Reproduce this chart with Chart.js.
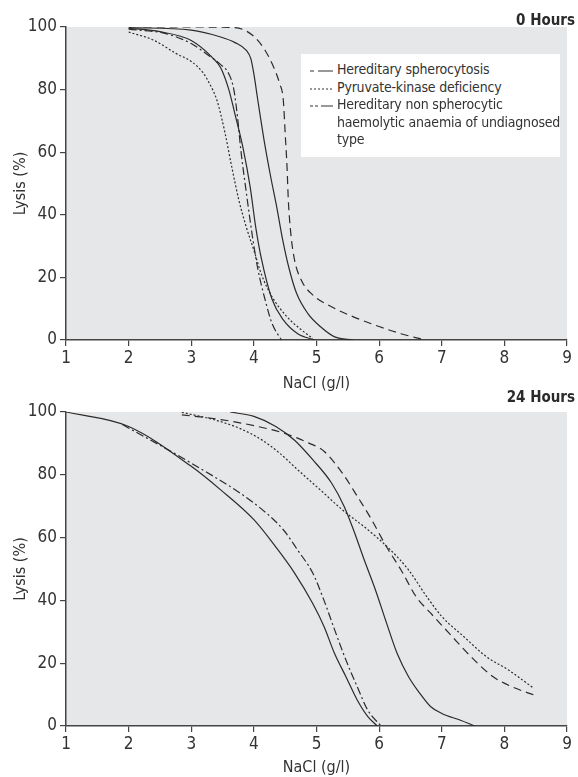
<!DOCTYPE html>
<html>
<head>
<meta charset="utf-8">
<script src="https://cdn.jsdelivr.net/npm/chart.js@4.4.1/dist/chart.umd.min.js"></script>
<style>
  body { margin:0; background:#fff; }
  #wrap { position:relative; width:578px; height:777px; overflow:hidden; font-family:"DejaVu Sans Condensed","Liberation Sans Narrow",sans-serif; color:#333; }
  canvas { position:absolute; left:0; }
  .ttl { position:absolute; right:3px; font-weight:bold; font-size:15px; color:#2a2a2a; }
  #legend { position:absolute; left:301px; top:54px; width:259px; height:103px; background:#fff; font-size:14px; letter-spacing:-0.2px; line-height:17.5px; }
  #legend .row { position:absolute; left:9px; }
  #legend svg { position:absolute; left:0; top:8px; }
  #legend span { position:absolute; left:27px; white-space:nowrap; }
</style>
</head>
<body>
<div id="wrap">
  <canvas id="c0" width="578" height="393" style="top:0"></canvas>
  <canvas id="c24" width="578" height="389" style="top:388px"></canvas>
  <div class="ttl" style="top:11px">0 Hours</div>
  <div class="ttl" style="top:388px">24 Hours</div>
  <div id="legend">
    <div class="row" style="top:7px"><svg width="23" height="4"><line x1="0" y1="2" x2="23" y2="2" stroke="#333" stroke-width="1.2" stroke-dasharray="4 4 15"/></svg><span>Hereditary spherocytosis</span></div>
    <div class="row" style="top:24.5px"><svg width="23" height="4"><line x1="0" y1="2" x2="23" y2="2" stroke="#333" stroke-width="1.2" stroke-dasharray="2 2"/></svg><span>Pyruvate-kinase deficiency</span></div>
    <div class="row" style="top:42px"><svg width="23" height="4"><line x1="0" y1="2" x2="23" y2="2" stroke="#333" stroke-width="1.2" stroke-dasharray="3 2 3 3 12"/></svg><span>Hereditary non spherocytic<br>haemolytic anaemia of undiagnosed<br>type</span></div>
  </div>
</div>
<script>
// 0 hours
const h0NormLowX = [2, 2.5, 3, 3.35, 3.47, 3.6, 3.7, 3.82, 3.94, 4.03, 4.12, 4.29, 4.47, 4.7, 4.97];
const h0NormLowY = [99.6, 98.5, 95.7, 90, 87, 80, 72, 62, 49, 36, 26, 13, 6.4, 2, 0];
const h0NormHighX = [2, 3, 3.47, 3.7, 3.88, 3.95, 4, 4.06, 4.17, 4.27, 4.36, 4.46, 4.56, 4.68, 4.86, 5.06, 5.29, 5.59];
const h0NormHighY = [99.8, 99, 96.8, 95, 92.5, 90, 85, 77, 63, 52, 43, 32, 23, 15, 8.5, 4.3, 1, 0];
const h0HsX = [2.24, 3, 3.7, 4, 4.18, 4.32, 4.41, 4.47, 4.5, 4.53, 4.55, 4.59, 4.65, 4.76, 4.94, 5.24, 5.59, 6, 6.35, 6.7];
const h0HsY = [100, 100, 99.8, 97, 92.5, 87, 82, 76.6, 66, 55, 44.7, 34, 25.5, 19, 14.4, 10.6, 7.4, 4.3, 2, 0.2];
const h0PkX = [2, 2.41, 2.76, 3, 3.18, 3.29, 3.41, 3.53, 3.65, 3.76, 3.88, 4, 4.12, 4.29, 4.53, 4.76, 4.94];
const h0PkY = [98.4, 95.7, 91.5, 89, 85.6, 82, 76.6, 67, 55, 44.7, 36, 28.7, 21, 13.8, 7.4, 3.2, 0.5];
const h0HnsX = [2, 2.59, 3, 3.29, 3.47, 3.6, 3.68, 3.74, 3.79, 3.88, 3.97, 4.06, 4.18, 4.29, 4.44];
const h0HnsY = [99.3, 97.9, 94.7, 90.7, 88, 85, 80, 71, 61, 47, 34, 23, 12.8, 5.3, 0];

// 24 hours
const h24NormLowX = [1, 2, 3, 3.47, 4, 4.35, 4.65, 4.94, 5.12, 5.29, 5.47, 5.65, 5.82, 5.97];
const h24NormLowY = [100, 95.4, 82.7, 75.2, 65.7, 57, 48.7, 39, 31.7, 23, 15.7, 8.3, 3, 0];
const h24NormHighX = [3.62, 4, 4.35, 4.65, 4.94, 5.24, 5.44, 5.59, 5.76, 5.94, 6.12, 6.29, 6.47, 6.65, 6.82, 7, 7.29, 7.53];
const h24NormHighY = [100, 98.6, 95.4, 91, 84.8, 77.4, 70, 62.5, 53, 43.4, 32.7, 23, 15.7, 10.4, 6.2, 4, 1.9, 0];
const h24HsX = [2.85, 3.47, 4.06, 4.47, 4.88, 5.12, 5.41, 5.65, 5.88, 6.12, 6.35, 6.59, 6.82, 7.12, 7.47, 7.82, 8.18, 8.47];
const h24HsY = [99.1, 97.6, 95.4, 93.3, 90.1, 87.5, 80.6, 73.2, 65.7, 57, 49.7, 41.2, 36, 29.5, 22, 15.7, 12, 9.9];
const h24PkX = [2.85, 3.35, 3.76, 4.12, 4.41, 4.7, 5.06, 5.41, 5.82, 6.18, 6.47, 6.76, 7, 7.35, 7.71, 8.06, 8.47];
const h24PkY = [99.9, 97.6, 94.9, 91.2, 86.9, 81.6, 75.2, 68.9, 62.5, 56.1, 49.7, 41.2, 34.9, 28.5, 22.1, 17.9, 12];
const h24HnsX = [1.9, 3, 4, 4.47, 4.7, 4.94, 5.12, 5.29, 5.47, 5.65, 5.82, 6.03];
const h24HnsY = [96, 83.7, 71, 62.5, 56, 48.7, 40, 30.6, 21, 12.5, 5, 0];

const xTicks = [1, 2, 3, 4, 5, 6, 7, 8, 9];
const yTicks = [0, 20, 40, 60, 80, 100];

const FONT = '"DejaVu Sans Condensed","Liberation Sans Narrow",sans-serif';
const INK = '#2b2b2b';
const DASH = { solid: [], hs: [8, 5], pk: [2, 2], hns: [8, 3, 2, 3] };

function pts(xs, ys) { return xs.map((x, i) => ({ x, y: ys[i] })); }
function ds(xs, ys, dash) {
  return { data: pts(xs, ys), borderColor: INK, borderWidth: 1.2, borderDash: dash,
    pointRadius: 0, fill: false, cubicInterpolationMode: 'monotone' };
}

const bgPlugin = {
  id: 'bg',
  beforeDraw(c) {
    const a = c.chartArea, ctx = c.ctx;
    ctx.save(); ctx.fillStyle = '#e6e7e9';
    ctx.fillRect(a.left, a.top, a.right - a.left, a.bottom - a.top);
    ctx.restore();
  }
};

function make(id, sets, topPad, xHeight) {
  new Chart(document.getElementById(id), {
    type: 'line',
    data: { datasets: sets },
    plugins: [bgPlugin],
    options: {
      responsive: false, animation: false,
      layout: { padding: { top: topPad, right: 11, left: 0, bottom: 0 } },
      plugins: { legend: { display: false }, tooltip: { enabled: false } },
      scales: {
        x: {
          type: 'linear', min: 1, max: 9,
          afterBuildTicks: s => { s.ticks = xTicks.map(v => ({ value: v })); },
          afterFit: s => { s.height = xHeight; },
          grid: { drawOnChartArea: false, drawTicks: true, tickLength: 6, color: '#444', lineWidth: 1.2 },
          border: { color: '#444', width: 1.5 },
          ticks: { color: '#333', font: { family: FONT, size: 17 }, padding: 2 },
          title: { display: true, text: 'NaCl (g/l)', color: '#333', font: { family: FONT, size: 16 }, padding: { top: 0, bottom: 0 } }
        },
        y: {
          min: 0, max: 100,
          afterBuildTicks: s => { s.ticks = yTicks.map(v => ({ value: v })); },
          afterFit: s => { s.width = 66; },
          grid: { drawOnChartArea: false, drawTicks: true, tickLength: 6, color: '#444', lineWidth: 1.2 },
          border: { color: '#444', width: 1.5 },
          ticks: { color: '#333', font: { family: FONT, size: 17 }, padding: 3 },
          title: { display: true, text: 'Lysis (%)', color: '#333', font: { family: FONT, size: 16 }, padding: { top: 11, bottom: 0 } }
        }
      }
    }
  });
}

make('c0', [
  ds(h0NormLowX, h0NormLowY, DASH.solid),
  ds(h0NormHighX, h0NormHighY, DASH.solid),
  ds(h0HsX, h0HsY, DASH.hs),
  ds(h0PkX, h0PkY, DASH.pk),
  ds(h0HnsX, h0HnsY, DASH.hns)
], 27, 53);

make('c24', [
  ds(h24NormLowX, h24NormLowY, DASH.solid),
  ds(h24NormHighX, h24NormHighY, DASH.solid),
  ds(h24HsX, h24HsY, DASH.hs),
  ds(h24PkX, h24PkY, DASH.pk),
  ds(h24HnsX, h24HnsY, DASH.hns)
], 24, 51);
</script>
</body>
</html>
